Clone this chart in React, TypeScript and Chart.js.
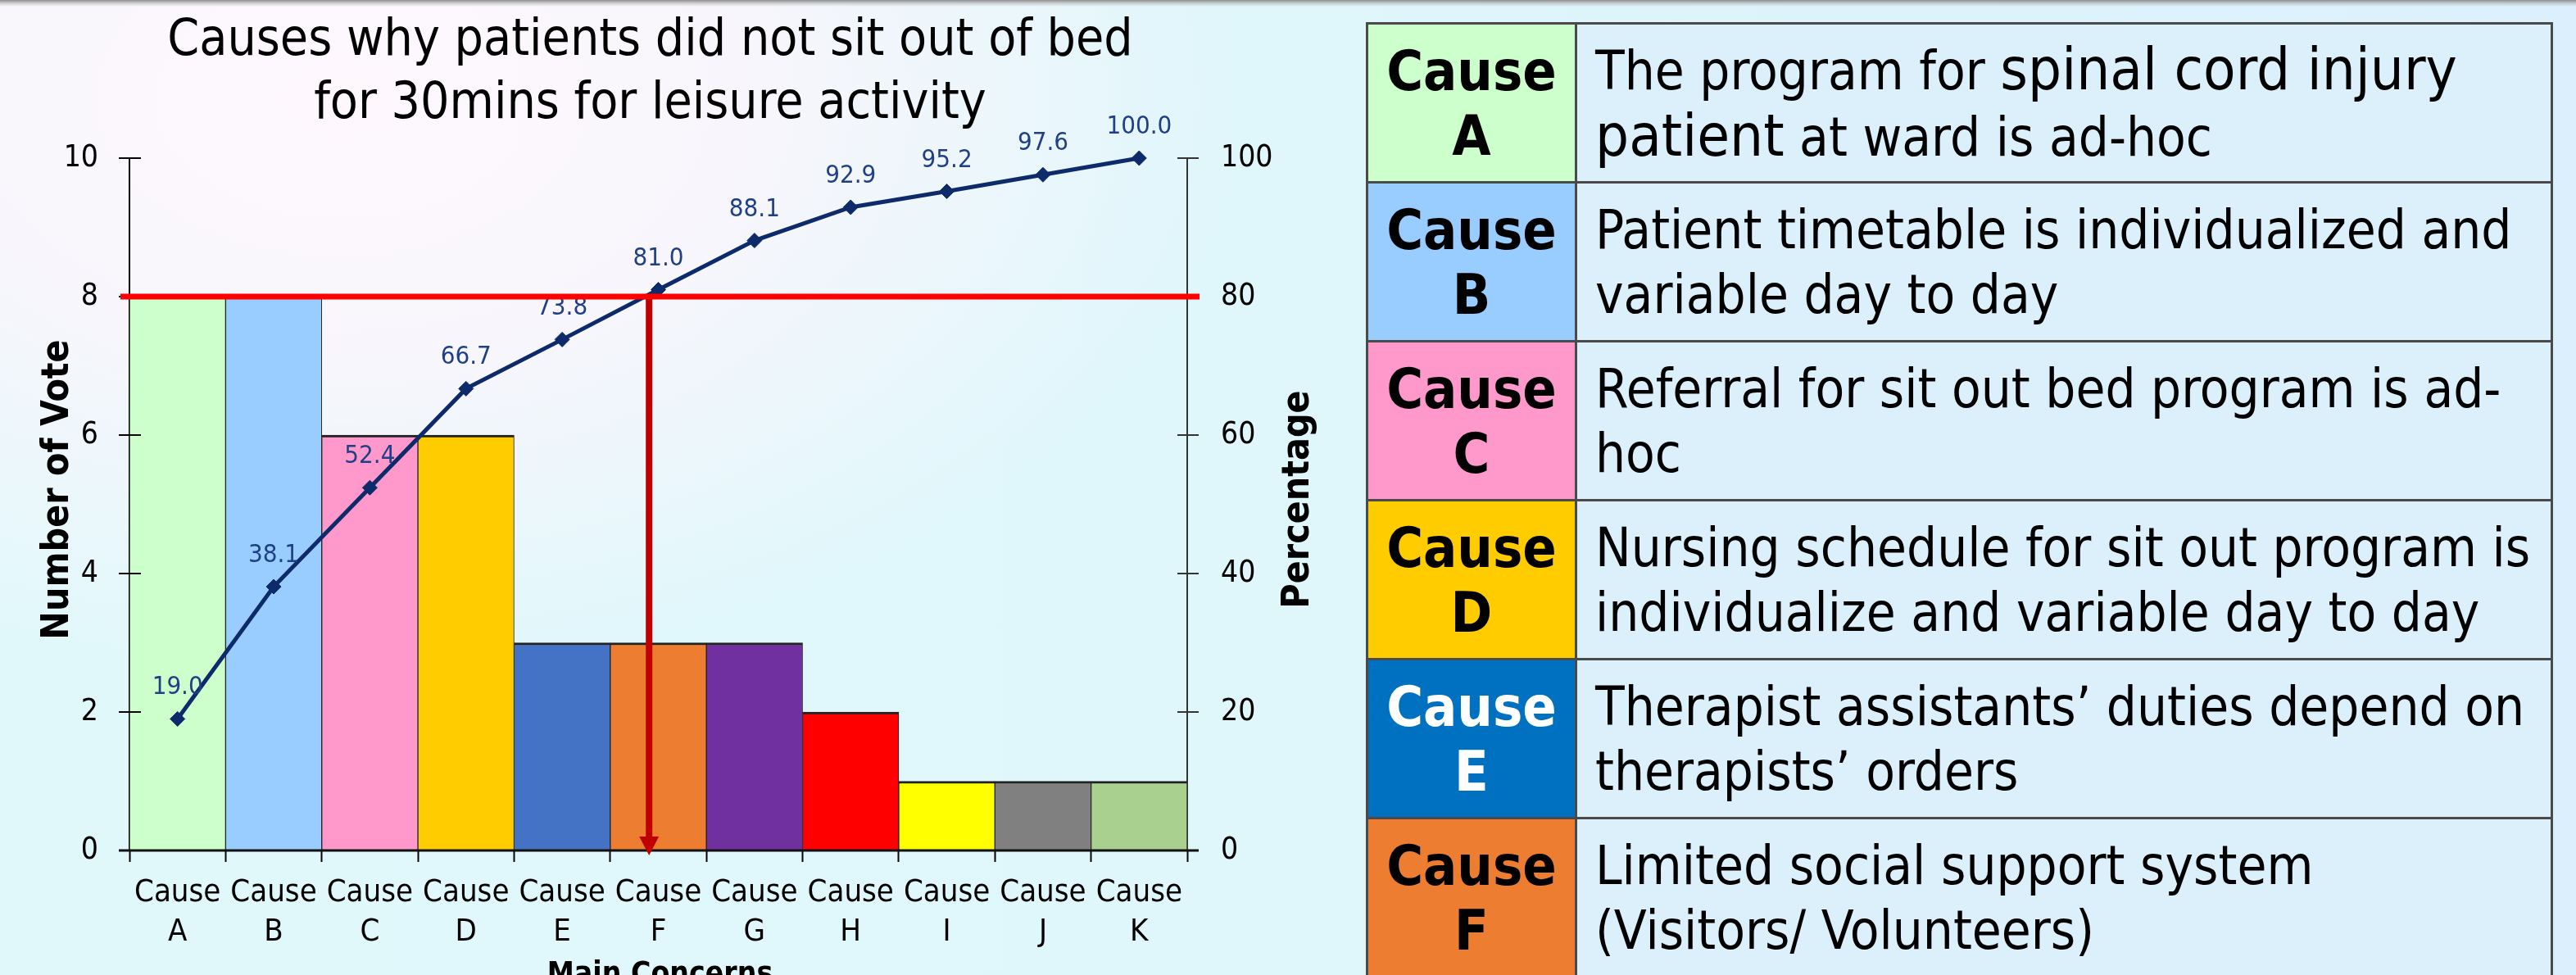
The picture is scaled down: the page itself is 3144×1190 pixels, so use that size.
import React, { useEffect, useRef } from 'react';
import { Chart, registerables } from 'chart.js';

Chart.register(...registerables);

// ---------- data ----------
const CATEGORIES = ['A', 'B', 'C', 'D', 'E', 'F', 'G', 'H', 'I', 'J', 'K'];
const X_LABEL_PREFIX = 'Cause';
const VOTES = [8, 8, 6, 6, 3, 3, 3, 2, 1, 1, 1];
const CUMULATIVE_PCT = [19.0, 38.1, 52.4, 66.7, 73.8, 81.0, 88.1, 92.9, 95.2, 97.6, 100.0];
const BAR_COLORS = ['#ccffcc', '#99ccff', '#ff99cc', '#ffcc00', '#4472c4', '#ed7d31', '#7030a0', '#ff0000', '#ffff00', '#808080', '#a9d08e'];
const VOTE_TICKS = [0, 2, 4, 6, 8, 10];
const PCT_TICKS = [0, 20, 40, 60, 80, 100];
const THRESHOLD_PCT = 80;
const TITLE_LINES = ['Causes why patients did not sit out of bed', 'for 30mins for leisure activity'];
const Y_TITLE = 'Number of Vote';
const Y1_TITLE = 'Percentage';
const X_TITLE = 'Main Concerns';

const TABLE_CAUSES = ['A', 'B', 'C', 'D', 'E', 'F'];
const TABLE_COLORS = ['#ccffcc', '#99ccff', '#ff99cc', '#ffcc00', '#0070c0', '#ed7d31'];
const TABLE_TEXT_COLORS = ['#000000', '#000000', '#000000', '#000000', '#ffffff', '#000000'];
const TABLE_DESCRIPTIONS = [
  ['The program for {spinal cord injury}', '{patient} at ward is ad-hoc'],
  ['Patient timetable is individualized and', 'variable day to day'],
  ['Referral for sit out bed program is ad-', 'hoc'],
  ['Nursing schedule for sit out program is', 'individualize and variable day to day'],
  ['Therapist assistants\u2019 duties depend on', 'therapists\u2019 orders'],
  ['Limited social support system', '(Visitors/ Volunteers)'],
];

// ---------- styles ----------
const FONT = '"DejaVu Sans Condensed", "Liberation Sans", sans-serif';
const LINE_COLOR = '#0d2b6b';
const LABEL_COLOR = '#1f3f86';
const BORDER_COLOR = '#4a4a4a';

function crossingIndex(values: number[], target: number): number {
  for (let i = 1; i < values.length; i++) {
    if (values[i - 1] < target && values[i] >= target) {
      return i - 1 + (target - values[i - 1]) / (values[i] - values[i - 1]);
    }
  }
  return values.length - 1;
}

const decorPlugin = {
  id: 'paretoDecor',
  afterDraw(chart: any) {
    const { ctx, chartArea: ca, scales } = chart;
    const xS = scales.x;
    const yS = scales.y;
    const y1S = scales.y1;
    const line = (x1: number, y1: number, x2: number, y2: number) => {
      ctx.beginPath();
      ctx.moveTo(x1, y1);
      ctx.lineTo(x2, y2);
      ctx.stroke();
    };
    ctx.save();

    // Title
    ctx.fillStyle = '#000';
    ctx.textAlign = 'center';
    ctx.textBaseline = 'alphabetic';
    ctx.font = `62px ${FONT}`;
    const tx = (ca.left + ca.right) / 2 - 10;
    ctx.fillText(TITLE_LINES[0], tx, 67);
    ctx.fillText(TITLE_LINES[1], tx, 144);

    // Axis titles
    ctx.font = `bold 46px ${FONT}`;
    const midY = (ca.top + ca.bottom) / 2;
    ctx.save();
    ctx.translate(83, midY - 18);
    ctx.rotate(-Math.PI / 2);
    ctx.fillText(Y_TITLE, 0, 0);
    ctx.restore();
    ctx.save();
    ctx.translate(ca.right + 148, midY - 6);
    ctx.rotate(-Math.PI / 2);
    ctx.fillText(Y1_TITLE, 0, 0);
    ctx.restore();
    ctx.font = `bold 37px ${FONT}`;
    ctx.fillText(X_TITLE, (ca.left + ca.right) / 2 + 2, ca.bottom + 162);

    // Crossing tick marks
    ctx.lineWidth = 2;
    ctx.strokeStyle = '#000';
    VOTE_TICKS.forEach((v) => {
      const y = Math.round(yS.getPixelForValue(v));
      line(ca.left - 13, y, ca.left + 14, y);
    });
    ctx.strokeStyle = '#333';
    PCT_TICKS.forEach((v) => {
      const y = Math.round(y1S.getPixelForValue(v));
      line(ca.right - 12, y, ca.right + 14, y);
    });

    // Extended x axis line
    ctx.lineWidth = 3;
    ctx.strokeStyle = '#111';
    line(ca.left - 13, ca.bottom, ca.right + 14, ca.bottom);

    // Data labels
    const meta = chart.getDatasetMeta(0);
    ctx.font = `31px ${FONT}`;
    ctx.fillStyle = LABEL_COLOR;
    ctx.textAlign = 'center';
    ctx.textBaseline = 'alphabetic';
    meta.data.forEach((pt: any, i: number) => {
      ctx.fillText(CUMULATIVE_PCT[i].toFixed(1), pt.x, pt.y - 30);
    });

    // 80% threshold line
    const ty = y1S.getPixelForValue(THRESHOLD_PCT);
    ctx.lineWidth = 7;
    ctx.strokeStyle = '#ff0000';
    line(ca.left - 11, ty, ca.right + 15, ty);

    // Arrow down at the crossing
    const ax = xS.getPixelForValue(crossingIndex(CUMULATIVE_PCT, THRESHOLD_PCT)) + 5;
    const headTop = ca.bottom - 17;
    ctx.lineWidth = 8;
    ctx.strokeStyle = '#c00000';
    line(ax, ty + 3, ax, headTop + 2);
    ctx.fillStyle = '#c00000';
    ctx.beginPath();
    ctx.moveTo(ax - 12, headTop);
    ctx.lineTo(ax + 12, headTop);
    ctx.lineTo(ax, ca.bottom + 6);
    ctx.closePath();
    ctx.fill();

    ctx.restore();
  },
};

function renderSegments(text: string) {
  const parts = text.split(/(\{[^}]+\})/).filter((p) => p.length > 0);
  return parts.map((p, i) =>
    p.startsWith('{') ? (
      <span key={i} style={{ fontSize: 72 }}>{p.slice(1, -1)}</span>
    ) : (
      <span key={i}>{p}</span>
    )
  );
}

export default function App() {
  const canvasRef = useRef<HTMLCanvasElement>(null);

  useEffect(() => {
    const canvas = canvasRef.current;
    if (!canvas) return;
    const tickFont = { family: FONT, size: 37 };
    const chart = new Chart(canvas, {
      type: 'bar',
      data: {
        labels: CATEGORIES.map((c) => [X_LABEL_PREFIX, c]),
        datasets: [
          {
            type: 'line',
            data: CUMULATIVE_PCT,
            yAxisID: 'y1',
            order: 0,
            borderColor: LINE_COLOR,
            backgroundColor: LINE_COLOR,
            borderWidth: 5,
            pointStyle: 'rectRot',
            pointRadius: 9,
            pointBackgroundColor: LINE_COLOR,
            pointBorderColor: LINE_COLOR,
            pointBorderWidth: 1,
            tension: 0,
            clip: false,
          } as any,
          {
            type: 'bar',
            data: VOTES,
            yAxisID: 'y',
            order: 1,
            backgroundColor: BAR_COLORS,
            borderColor: '#222222',
            borderWidth: { top: 3, left: 1, right: 1, bottom: 0 },
            barPercentage: 1,
            categoryPercentage: 1,
          } as any,
        ],
      },
      options: {
        responsive: false,
        animation: false,
        devicePixelRatio: 1,
        events: [],
        layout: { padding: { top: 193, left: 0, right: 0, bottom: 0 } },
        plugins: {
          legend: { display: false },
          tooltip: { enabled: false },
          title: { display: false },
        },
        scales: {
          x: {
            offset: true,
            grid: {
              offset: true,
              drawOnChartArea: false,
              drawTicks: true,
              tickLength: 14,
              tickColor: '#000',
              tickWidth: 2,
            },
            border: { display: false },
            ticks: {
              font: { family: FONT, size: 38, lineHeight: 48 / 38 },
              color: '#000',
              padding: 14,
              maxRotation: 0,
              autoSkip: false,
            },
            afterFit: (s: any) => {
              s.height = 152;
            },
          },
          y: {
            position: 'left',
            min: 0,
            max: 10,
            afterBuildTicks: (s: any) => {
              s.ticks = VOTE_TICKS.map((v) => ({ value: v }));
            },
            ticks: { font: tickFont, color: '#000', padding: 38 },
            grid: { drawOnChartArea: false, drawTicks: false },
            border: { color: '#000', width: 2 },
            afterFit: (s: any) => {
              s.width = 158;
            },
          },
          y1: {
            position: 'right',
            min: 0,
            max: 100,
            afterBuildTicks: (s: any) => {
              s.ticks = PCT_TICKS.map((v) => ({ value: v }));
            },
            ticks: { font: tickFont, color: '#000', padding: 41 },
            grid: { drawOnChartArea: false, drawTicks: false },
            border: { color: '#333', width: 2 },
            afterFit: (s: any) => {
              s.width = 191;
            },
          },
        },
      } as any,
      plugins: [decorPlugin],
    });
    return () => chart.destroy();
  }, []);

  return (
    <div
      style={{
        position: 'absolute',
        left: 0,
        top: 0,
        width: 3144,
        height: 1190,
        overflow: 'hidden',
        background:
          'radial-gradient(ellipse 1100px 700px at 420px 120px, rgba(254,248,253,1) 0%, rgba(252,246,252,0.85) 45%, rgba(252,246,252,0) 100%), linear-gradient(90deg, #e1f8fb 0%, #dff6fb 50%, #dbf0fc 100%)',
      }}
    >
      <div
        style={{
          position: 'absolute',
          left: 0,
          top: 0,
          width: 3144,
          height: 8,
          background: 'linear-gradient(180deg, #8f8f8f 0%, rgba(170,170,170,0.5) 50%, rgba(200,200,200,0) 100%)',
        }}
      />
      <canvas
        ref={canvasRef}
        width={1640}
        height={1190}
        style={{ position: 'absolute', left: 0, top: 0, width: 1640, height: 1190 }}
      />
      <div
        style={{
          position: 'absolute',
          left: 1667,
          top: 27,
          width: 1449,
          borderTop: `3px solid ${BORDER_COLOR}`,
        }}
      >
        {TABLE_CAUSES.map((c, i) => (
          <div
            key={c}
            style={{
              display: 'flex',
              height: 194,
              boxSizing: 'border-box',
              borderLeft: `3px solid ${BORDER_COLOR}`,
              borderRight: `3px solid ${BORDER_COLOR}`,
              borderBottom: `3px solid ${BORDER_COLOR}`,
            }}
          >
            <div
              style={{
                width: 252,
                flex: '0 0 252px',
                background: TABLE_COLORS[i],
                borderRight: `3px solid ${BORDER_COLOR}`,
                display: 'flex',
                flexDirection: 'column',
                alignItems: 'center',
                justifyContent: 'center',
                fontFamily: FONT,
                fontWeight: 'bold',
                fontSize: 68,
                lineHeight: '79px',
                color: TABLE_TEXT_COLORS[i],
              }}
            >
              <div>{X_LABEL_PREFIX}</div>
              <div>{c}</div>
            </div>
            <div
              style={{
                flex: 1,
                background: '#dcf0fc',
                paddingLeft: 22,
                display: 'flex',
                flexDirection: 'column',
                justifyContent: 'center',
                fontFamily: FONT,
                fontSize: 65,
                lineHeight: '79px',
                whiteSpace: 'nowrap',
                color: '#000',
                overflow: 'hidden',
              }}
            >
              {TABLE_DESCRIPTIONS[i].map((ln, j) => (
                <div key={j}>{renderSegments(ln)}</div>
              ))}
            </div>
          </div>
        ))}
      </div>
    </div>
  );
}
